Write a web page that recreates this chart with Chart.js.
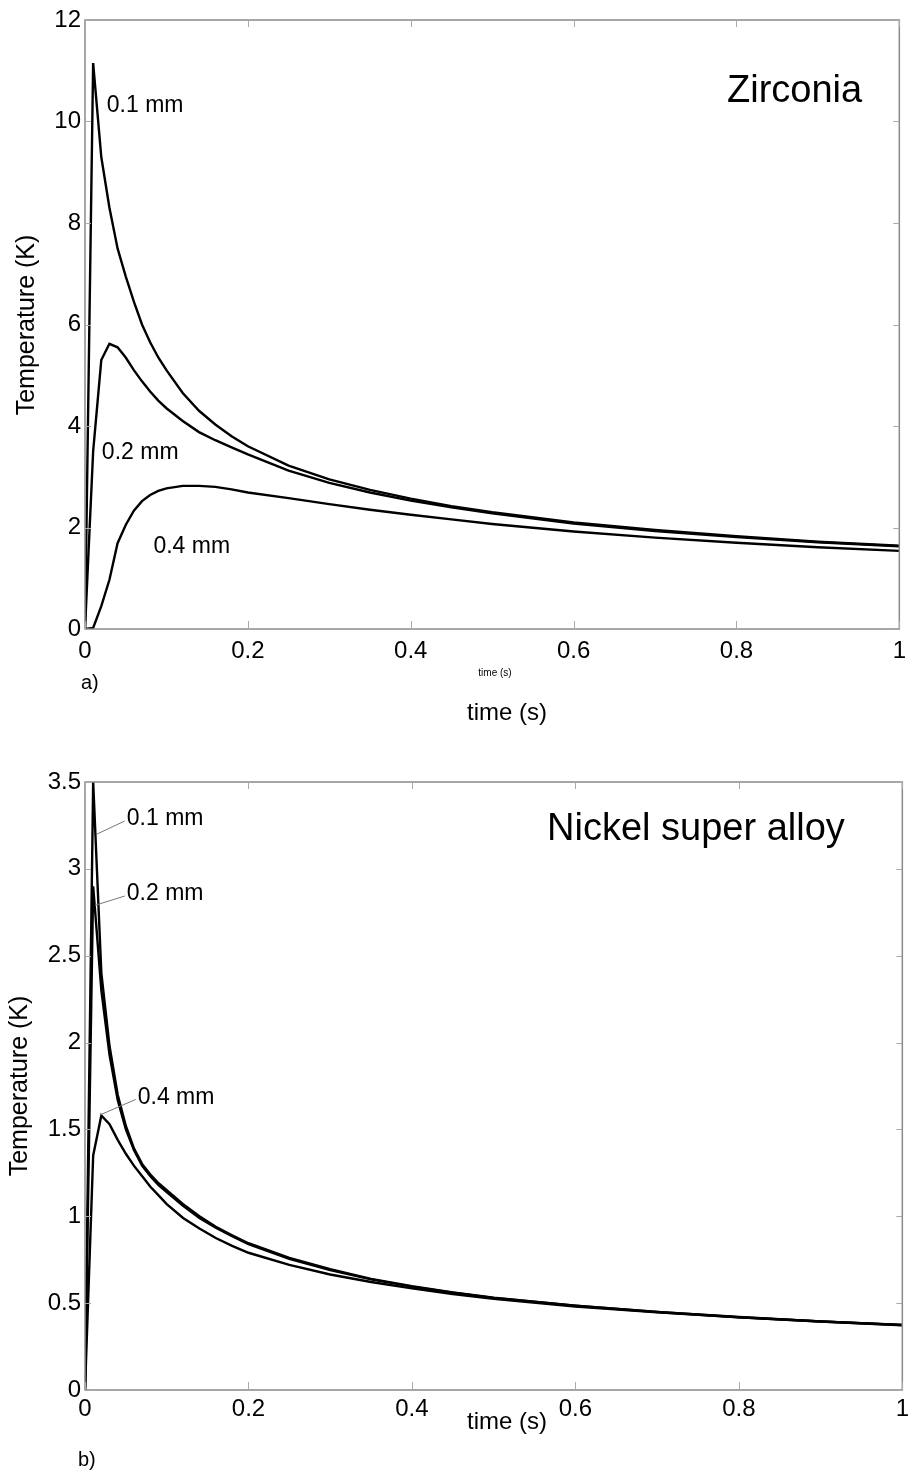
<!DOCTYPE html>
<html>
<head>
<meta charset="utf-8">
<script src="https://cdn.jsdelivr.net/npm/chart.js@4.4.1/dist/chart.umd.min.js"></script>
<style>
  html, body { margin: 0; padding: 0; background: #fff; }
  #wrap { position: relative; width: 914px; height: 1472px; }
  #wrap canvas { position: absolute; left: 0; }
  #chartA { top: 0; }
  #chartB { top: 740px; }
</style>
</head>
<body>
<div id="wrap">
  <canvas id="chartA" width="914" height="740"></canvas>
  <canvas id="chartB" width="914" height="732"></canvas>
</div>
<script>
// --- data ----------------------------------------------------
const times = [0, 0.01, 0.02, 0.03, 0.04, 0.05, 0.06, 0.07, 0.08, 0.09, 0.1,
               0.12, 0.14, 0.16, 0.18, 0.2, 0.25, 0.3, 0.35, 0.4, 0.45, 0.5,
               0.6, 0.7, 0.8, 0.9, 1.0];

// a) Zirconia
const zr01 = [0, 11.15, 9.3, 8.3, 7.5, 6.95, 6.45, 6.0, 5.65, 5.35, 5.1,
              4.65, 4.3, 4.03, 3.8, 3.6, 3.22, 2.95, 2.74, 2.57, 2.42, 2.3,
              2.1, 1.95, 1.83, 1.72, 1.64];
const zr02 = [0, 3.5, 5.3, 5.62, 5.55, 5.35, 5.1, 4.88, 4.68, 4.5, 4.35,
              4.1, 3.88, 3.72, 3.58, 3.44, 3.12, 2.88, 2.69, 2.53, 2.4, 2.28,
              2.08, 1.93, 1.81, 1.71, 1.63];
const zr04 = [0, 0.02, 0.45, 0.97, 1.69, 2.05, 2.33, 2.52, 2.64, 2.72, 2.77,
              2.82, 2.82, 2.8, 2.75, 2.69, 2.58, 2.46, 2.35, 2.25, 2.16, 2.07,
              1.92, 1.8, 1.7, 1.61, 1.54];

// b) Nickel super alloy
const ni01 = [0, 3.5, 2.4, 1.98, 1.7, 1.52, 1.39, 1.3, 1.24, 1.19, 1.15,
              1.07, 1.0, 0.94, 0.89, 0.845, 0.76, 0.695, 0.64, 0.598, 0.562, 0.532,
              0.486, 0.45, 0.42, 0.395, 0.375];
const ni02 = [0, 2.9, 2.3, 1.93, 1.67, 1.5, 1.38, 1.29, 1.23, 1.18, 1.14,
              1.06, 0.99, 0.935, 0.885, 0.84, 0.755, 0.69, 0.637, 0.595, 0.56, 0.53,
              0.485, 0.449, 0.419, 0.394, 0.374];
const ni04 = [0, 1.35, 1.58, 1.53, 1.44, 1.36, 1.29, 1.23, 1.17, 1.12, 1.07,
              0.99, 0.93, 0.875, 0.83, 0.79, 0.72, 0.665, 0.622, 0.585, 0.553, 0.525,
              0.48, 0.447, 0.418, 0.394, 0.373];

const xTicks  = [0, 0.2, 0.4, 0.6, 0.8, 1];
const yTicksA = [0, 2, 4, 6, 8, 10, 12];
const yTicksB = [0, 0.5, 1, 1.5, 2, 2.5, 3, 3.5];

const FONT = '"Liberation Sans", Arial, sans-serif';

// --- helpers -------------------------------------------------
function points(ys) {
    return times.map(function (t, i) { return { x: t, y: ys[i] }; });
}

function series(ys) {
    return {
        data: points(ys),
        borderColor: '#000',
        borderWidth: 2.4,
        pointRadius: 0,
        tension: 0,
        fill: false,
    };
}

function fmt(v) {
    return String(Math.round(v * 10) / 10);
}

// box + inward ticks on all four sides, and free text
const framePlugin = {
    id: 'frame',
    afterDraw(chart, args, opts) {
        const { ctx, chartArea: a, scales: { x, y } } = chart;
        ctx.save();
        ctx.strokeStyle = '#8a8a8a';
        ctx.lineWidth = 1.5;
        ctx.strokeRect(a.left, a.top, a.right - a.left, a.bottom - a.top);
        ctx.strokeStyle = '#aaa';
        ctx.lineWidth = 1;
        ctx.beginPath();
        x.ticks.forEach(function (t) {
            const px = Math.round(x.getPixelForValue(t.value)) + 0.5;
            ctx.moveTo(px, a.bottom); ctx.lineTo(px, a.bottom - 8);
            ctx.moveTo(px, a.top);    ctx.lineTo(px, a.top + 7);
        });
        y.ticks.forEach(function (t) {
            const py = Math.round(y.getPixelForValue(t.value)) + 0.5;
            ctx.moveTo(a.left, py);  ctx.lineTo(a.left + 6, py);
            ctx.moveTo(a.right, py); ctx.lineTo(a.right - 6, py);
        });
        ctx.stroke();

        // labels on the curves (data coords) with optional leader line
        ctx.fillStyle = '#000';
        ctx.textBaseline = 'middle';
        ctx.textAlign = 'left';
        ctx.font = '23px ' + FONT;
        (opts.labels || []).forEach(function (l) {
            const px = x.getPixelForValue(l.x), py = y.getPixelForValue(l.y);
            if (l.lx !== undefined) {
                ctx.strokeStyle = '#777';
                ctx.lineWidth = 1;
                ctx.beginPath();
                ctx.moveTo(px - 2, py + 2);
                ctx.lineTo(x.getPixelForValue(l.lx), y.getPixelForValue(l.ly));
                ctx.stroke();
            }
            ctx.fillText(l.text, px, py);
        });

        // free text in canvas pixels
        (opts.texts || []).forEach(function (t) {
            ctx.save();
            ctx.font = t.size + 'px ' + FONT;
            ctx.textAlign = t.align || 'center';
            ctx.textBaseline = t.baseline || 'middle';
            ctx.translate(t.x, t.y);
            if (t.rot) ctx.rotate(t.rot);
            ctx.fillText(t.text, 0, 0);
            ctx.restore();
        });
        ctx.restore();
    },
};

function makeChart(id, cfg) {
    return new Chart(document.getElementById(id), {
        type: 'line',
        data: { datasets: cfg.sets.map(series) },
        options: {
            responsive: false,
            animation: false,
            layout: { padding: { top: cfg.padTop, right: cfg.padRight, left: 0, bottom: 0 } },
            plugins: {
                legend: { display: false },
                tooltip: { enabled: false },
                frame: { labels: cfg.labels, texts: cfg.texts },
            },
            scales: {
                x: {
                    type: 'linear',
                    min: 0, max: 1,
                    afterBuildTicks: function (s) { s.ticks = xTicks.map(function (v) { return { value: v }; }); },
                    afterFit: function (s) { s.height = cfg.xHeight; },
                    grid: { display: false, drawTicks: false, tickLength: 0 },
                    border: { display: false },
                    ticks: {
                        color: '#000', padding: cfg.xPad, maxRotation: 0,
                        font: { family: FONT, size: 24 },
                        callback: fmt,
                    },
                },
                y: {
                    type: 'linear',
                    min: 0, max: cfg.yMax,
                    afterBuildTicks: function (s) { s.ticks = cfg.yTicks.map(function (v) { return { value: v }; }); },
                    afterFit: function (s) { s.width = 85; },
                    grid: { display: false, drawTicks: false, tickLength: 0 },
                    border: { display: false },
                    ticks: {
                        color: '#000', padding: 4,
                        font: { family: FONT, size: 24 },
                        callback: fmt,
                    },
                },
            },
        },
        plugins: [framePlugin],
    });
}

// --- a) Zirconia ---------------------------------------------
makeChart('chartA', {
    sets: [zr01, zr02, zr04],
    yMax: 12, yTicks: yTicksA,
    padTop: 20, padRight: 8, xHeight: 111, xPad: 8,
    labels: [
        { text: '0.1 mm', x: 0.0268, y: 10.32 },
        { text: '0.2 mm', x: 0.0207, y: 3.47 },
        { text: '0.4 mm', x: 0.084,  y: 1.62 },
    ],
    texts: [
        { text: 'Zirconia', x: 727, y: 102, size: 38, align: 'left', baseline: 'alphabetic' },
        { text: 'Temperature (K)', x: 27, y: 325, size: 25, rot: -Math.PI / 2 },
        { text: 'time (s)', x: 495, y: 673, size: 10 },
        { text: 'a)', x: 81, y: 683, size: 20, align: 'left' },
        { text: 'time (s)', x: 507, y: 713, size: 24 },
    ],
});

// --- b) Nickel super alloy -----------------------------------
makeChart('chartB', {
    sets: [ni01, ni02, ni04],
    yMax: 3.5, yTicks: yTicksB,
    padTop: 42, padRight: 7, xHeight: 82, xPad: 5,
    labels: [
        { text: '0.1 mm', x: 0.0511, y: 3.287, lx: 0.0146, ly: 3.2 },
        { text: '0.2 mm', x: 0.0511, y: 2.855, lx: 0.0122, ly: 2.79 },
        { text: '0.4 mm', x: 0.0645, y: 1.684, lx: 0.0182, ly: 1.583 },
    ],
    texts: [
        { text: 'Nickel super alloy', x: 547, y: 100, size: 38, align: 'left', baseline: 'alphabetic' },
        { text: 'Temperature (K)', x: 20, y: 346, size: 25, rot: -Math.PI / 2 },
        { text: 'time (s)', x: 507, y: 682, size: 24 },
        { text: 'b)', x: 78, y: 720, size: 20, align: 'left' },
    ],
});
</script>
</body>
</html>
